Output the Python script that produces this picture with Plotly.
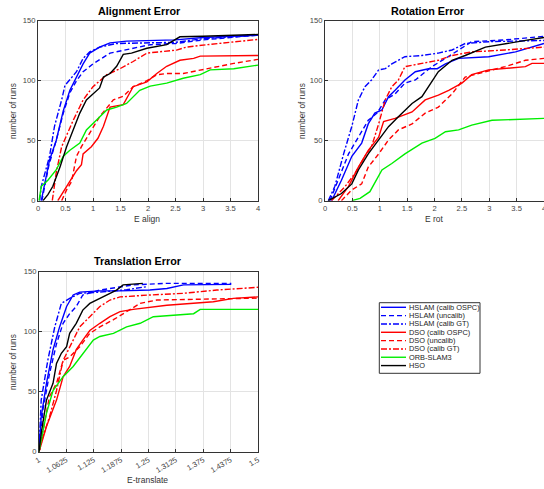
import plotly.graph_objects as go

# ---------------- data ----------------
NAMES = ["HSLAM (calib OSPC)", "HSLAM (uncalib)", "HSLAM (calib GT)",
         "DSO (calib OSPC)", "DSO (uncalib)", "DSO (calib GT)",
         "ORB-SLAM3", "HSO"]
COLORS = ["#0000FF", "#0000FF", "#0000FF", "#FF0000", "#FF0000", "#FF0000", "#00EE00", "#000000"]
DASHES = ["solid", "5px,3px", "6px,2px,2px,2px", "solid", "5px,3px", "6px,2px,2px,2px", "solid", "solid"]

# Alignment error
align_hslam_ospc_x = [0.06, 0.21, 0.33, 0.46, 0.58, 0.70, 0.82, 0.94, 1.12, 1.31, 1.61, 2.5, 3.0, 4.0]
align_hslam_ospc_y = [0, 34, 50, 75, 92, 103, 114, 123, 128, 131.5, 133, 134, 136, 138]
align_hslam_uncal_x = [0.07, 0.2, 0.33, 0.46, 0.58, 0.70, 0.82, 1.0, 1.31, 1.73, 2.04, 2.5, 3.0, 4.0]
align_hslam_uncal_y = [0, 30, 50, 73, 90, 100, 107.5, 114, 123, 127, 130, 131, 134, 138]
align_hslam_gt_x = [0.03, 0.06, 0.21, 0.30, 0.43, 0.49, 0.70, 0.82, 0.94, 1.12, 1.43, 2.5, 3.0, 4.0]
align_hslam_gt_y = [0, 12, 37, 62, 84, 96, 107.5, 118.6, 124, 128, 131, 132, 135, 138]
align_dso_ospc_x = [0.36, 0.52, 0.70, 0.79, 0.82, 0.97, 1.09, 1.19, 1.31, 1.55, 1.73, 1.98, 2.16, 2.34, 2.58, 2.83, 2.95, 4.0]
align_dso_ospc_y = [0, 12, 25, 30, 39, 45, 52, 62, 78, 80, 95, 99, 106, 112, 117, 118.6, 120.5, 121]
align_dso_uncal_x = [0.43, 0.52, 0.61, 0.70, 0.79, 0.94, 1.12, 1.37, 1.55, 1.73, 1.98, 2.16, 2.34, 2.64, 2.95, 3.31, 3.56, 4.0]
align_dso_uncal_y = [0, 9, 16, 37, 45, 56, 70, 84, 87, 95, 100, 105, 106, 106, 109, 112, 114.4, 117.8]
align_dso_gt_x = [0.26, 0.33, 0.43, 0.64, 0.82, 1.0, 1.25, 1.49, 1.73, 1.98, 2.52, 2.7, 3.07, 3.56, 4.0]
align_dso_gt_y = [0, 23, 45, 67, 84, 95, 105, 110, 116, 123, 125.5, 128, 130, 132.5, 134.4]
align_orb_x = [0.02, 0.06, 0.18, 0.33, 0.46, 0.58, 0.76, 0.88, 1.06, 1.25, 1.43, 1.61, 1.85, 2.04, 2.34, 2.64, 2.95, 3.13, 3.56, 4.0]
align_orb_y = [0, 12, 17, 25.6, 37, 42, 48, 59, 67, 75.6, 78, 81, 92, 95.5, 98, 102, 105, 109, 110, 113]
align_hso_x = [0.09, 0.18, 0.27, 0.40, 0.52, 0.64, 0.76, 0.88, 1.0, 1.12, 1.19, 1.31, 1.43, 1.55, 1.7, 1.98, 2.34, 2.58, 3.0, 4.0]
align_hso_y = [0, 5, 12, 28, 45, 59, 73, 84, 89, 94, 103, 106, 112, 122, 123, 127, 130, 136.6, 137, 138.5]

# Rotation error
rot_hslam_ospc_x = [0.12, 0.30, 0.49, 0.67, 0.79, 0.91, 1.04, 1.16, 1.28, 1.46, 1.65, 1.89, 2.05, 2.2, 2.44, 2.99, 3.48, 4.0]
rot_hslam_ospc_y = [0, 17, 37, 48, 64, 73, 75.6, 86.7, 92, 100.6, 107.5, 110, 110, 114, 118.6, 120, 124, 131]
rot_hslam_uncal_x = [0.09, 0.24, 0.43, 0.61, 0.79, 0.95, 1.10, 1.28, 1.46, 1.65, 1.95, 2.2, 2.44, 2.68, 3.29, 4.0]
rot_hslam_uncal_y = [0, 17, 39, 53, 67, 73, 84, 89, 98, 100.6, 111.7, 118.6, 125.6, 132.5, 134, 137]
rot_hslam_gt_x = [0.06, 0.18, 0.34, 0.49, 0.61, 0.73, 0.85, 0.98, 1.10, 1.22, 1.46, 1.77, 2.07, 2.32, 2.56, 2.99, 3.48, 4.0]
rot_hslam_gt_y = [0, 12, 39, 62, 84, 95, 100.6, 109, 110, 114, 120, 121, 123, 125.6, 131, 132.5, 133, 133.5]
rot_dso_ospc_x = [0.24, 0.43, 0.61, 0.79, 0.98, 1.07, 1.28, 1.59, 1.83, 2.07, 2.26, 2.5, 2.68, 2.99, 3.66, 3.78, 4.0]
rot_dso_ospc_y = [0, 12, 28, 42, 53, 66, 68.6, 74, 84, 88, 92, 98, 105, 109, 111.7, 114.4, 114.4]
rot_dso_uncal_x = [0.30, 0.49, 0.67, 0.79, 0.98, 1.16, 1.34, 1.59, 1.83, 2.07, 2.32, 2.56, 2.8, 3.29, 3.66, 4.0]
rot_dso_uncal_y = [0, 9, 14, 28, 39, 50.6, 59, 64, 73, 78, 89, 103, 106, 111.7, 117, 118.6]
rot_dso_gt_x = [0.12, 0.37, 0.55, 0.73, 0.85, 0.98, 1.10, 1.22, 1.34, 1.46, 1.77, 2.07, 2.32, 2.68, 3.29, 4.0]
rot_dso_gt_y = [0, 12, 23, 37, 45, 64, 84, 95, 100.6, 111.7, 114.4, 117, 121, 124, 125.6, 128]
rot_orb_x = [0.49, 0.64, 0.82, 1.04, 1.22, 1.46, 1.77, 2.01, 2.2, 2.44, 2.68, 3.05, 4.0]
rot_orb_y = [0, 2, 7.5, 25.6, 31, 39, 48, 52, 57.5, 59, 63, 67, 68.6]
rot_hso_x = [0.06, 0.30, 0.49, 0.61, 0.79, 0.98, 1.16, 1.34, 1.59, 1.77, 1.89, 2.07, 2.32, 2.56, 2.93, 3.29, 3.72, 4.0]
rot_hso_y = [0, 6, 14, 25.6, 39, 50.6, 61.7, 70, 81, 86.7, 95, 107.5, 117, 121, 128, 131, 134, 136]

# Translation error
tr_hslam_ospc_x = [1.0, 1.005, 1.017, 1.032, 1.047, 1.063, 1.078, 1.093, 1.139, 1.185, 1.253, 1.292, 1.33, 1.439]
tr_hslam_ospc_y = [1.4, 29, 57, 85, 104, 121, 130.6, 133, 134, 134, 134.7, 136, 139, 139.4]
tr_hslam_uncal_x = [1.0015, 1.009, 1.024, 1.04, 1.055, 1.07, 1.085, 1.1, 1.139, 1.215, 1.29, 1.439]
tr_hslam_uncal_y = [1.4, 35, 65, 90, 107, 115, 121, 130.6, 134.7, 139, 140.3, 140.3]
tr_hslam_gt_x = [1.0, 1.005, 1.02, 1.036, 1.051, 1.07, 1.093, 1.139, 1.2, 1.246]
tr_hslam_gt_y = [0, 43, 76, 104, 123.6, 127.8, 132, 133, 135, 137.5]
tr_dso_ospc_x = [1.0, 1.017, 1.04, 1.055, 1.07, 1.085, 1.1, 1.116, 1.139, 1.162, 1.185, 1.215, 1.292, 1.368, 1.398, 1.444, 1.5]
tr_dso_ospc_y = [0, 21, 43, 62.5, 71, 85, 93, 101, 107, 112.5, 116.7, 118.6, 122, 124, 125, 127.8, 129]
tr_dso_uncal_x = [1.0, 1.017, 1.024, 1.04, 1.055, 1.07, 1.093, 1.116, 1.139, 1.17, 1.192, 1.208, 1.231, 1.269, 1.368, 1.444, 1.5]
tr_dso_uncal_y = [0, 35, 46, 57, 76, 79, 87.5, 98.6, 104, 110, 115, 118, 123.6, 126.4, 127, 127.8, 128]
tr_dso_gt_x = [1.0, 1.009, 1.024, 1.04, 1.055, 1.07, 1.093, 1.116, 1.139, 1.162, 1.185, 1.253, 1.33, 1.406, 1.5]
tr_dso_gt_y = [0, 12.5, 29, 51, 76, 87.5, 104, 112.5, 121, 126.4, 129, 130.6, 132, 134.7, 137]
tr_orb_x = [1.0, 1.017, 1.032, 1.055, 1.078, 1.1, 1.124, 1.139, 1.17, 1.2, 1.231, 1.261, 1.33, 1.353, 1.368, 1.5]
tr_orb_y = [0, 32, 51, 62.5, 71, 82, 93, 96, 98.6, 104, 107, 112.5, 114, 115, 118.6, 118.6]
tr_hso_x = [1.0, 1.005, 1.017, 1.032, 1.04, 1.051, 1.063, 1.07, 1.085, 1.1, 1.116, 1.131, 1.154, 1.177, 1.192, 1.237]
tr_hso_y = [0, 15, 43, 57, 73.6, 82, 87.5, 98.6, 107, 118, 123.6, 126.4, 130.6, 134.7, 139, 140.3]

ALIGN = [(align_hslam_ospc_x, align_hslam_ospc_y), (align_hslam_uncal_x, align_hslam_uncal_y),
         (align_hslam_gt_x, align_hslam_gt_y), (align_dso_ospc_x, align_dso_ospc_y),
         (align_dso_uncal_x, align_dso_uncal_y), (align_dso_gt_x, align_dso_gt_y),
         (align_orb_x, align_orb_y), (align_hso_x, align_hso_y)]
ROT = [(rot_hslam_ospc_x, rot_hslam_ospc_y), (rot_hslam_uncal_x, rot_hslam_uncal_y),
       (rot_hslam_gt_x, rot_hslam_gt_y), (rot_dso_ospc_x, rot_dso_ospc_y),
       (rot_dso_uncal_x, rot_dso_uncal_y), (rot_dso_gt_x, rot_dso_gt_y),
       (rot_orb_x, rot_orb_y), (rot_hso_x, rot_hso_y)]
TRANS = [(tr_hslam_ospc_x, tr_hslam_ospc_y), (tr_hslam_uncal_x, tr_hslam_uncal_y),
         (tr_hslam_gt_x, tr_hslam_gt_y), (tr_dso_ospc_x, tr_dso_ospc_y),
         (tr_dso_uncal_x, tr_dso_uncal_y), (tr_dso_gt_x, tr_dso_gt_y),
         (tr_orb_x, tr_orb_y), (tr_hso_x, tr_hso_y)]

TRANS_TICKS = [1, 1.0625, 1.125, 1.1875, 1.25, 1.3125, 1.375, 1.4375, 1.5]
TRANS_TICKTEXT = ["1", "1.0625", "1.125", "1.1875", "1.25", "1.3125", "1.375", "1.4375", "1.5"]

# ---------------- figure ----------------
W, H = 544, 489
FONT = "Liberation Sans, Arial, sans-serif"
fig = go.Figure()

panels = [("x", "y", ALIGN), ("x2", "y2", ROT), ("x3", "y3", TRANS)]
for xa, ya, series in panels:
    for i, (xs, ys) in enumerate(series):
        fig.add_trace(go.Scatter(
            x=xs, y=ys, xaxis=xa, yaxis=ya, mode="lines", name=NAMES[i],
            showlegend=False, hoverinfo="skip",
            line=dict(color=COLORS[i], dash=DASHES[i], width=1.4)))

def px_x(p):
    return p / W

def px_y(p):
    return 1 - p / H

axis_common = dict(showline=True, linecolor="#333333", linewidth=1, mirror=True,
                   showgrid=True, gridcolor="#E3E3E3", gridwidth=1,
                   ticks="inside", ticklen=3, tickcolor="#333333",
                   tickfont=dict(size=7.6, color="#444444", family=FONT),
                   zeroline=False, automargin=False, ticklabeloverflow="allow")

fig.update_layout(
    width=W, height=H, margin=dict(l=0, r=0, t=0, b=0, autoexpand=False),
    paper_bgcolor="white", plot_bgcolor="white",
    font=dict(family=FONT), showlegend=False,
    xaxis=dict(domain=[px_x(38), px_x(258)], range=[0, 4], dtick=0.5, anchor="y", **axis_common),
    yaxis=dict(domain=[px_y(200.7), px_y(20.7)], range=[0, 150], dtick=50, anchor="x", **axis_common),
    xaxis2=dict(domain=[px_x(325), px_x(544)], range=[0, 4], dtick=0.5, anchor="y2", **axis_common),
    yaxis2=dict(domain=[px_y(200.7), px_y(20.7)], range=[0, 150], dtick=50, anchor="x2", **axis_common),
    xaxis3=dict(domain=[px_x(39), px_x(258)], range=[1, 1.5], tickvals=TRANS_TICKS,
                ticktext=TRANS_TICKTEXT, tickangle=-30, anchor="y3", **axis_common),
    yaxis3=dict(domain=[px_y(451.7), px_y(271.7)], range=[0, 150], dtick=50, anchor="x3", **axis_common),
)

def ann(text, x, y, size, bold=False, angle=0, color="#333333", xanchor="center"):
    fig.add_annotation(text=("<b>%s</b>" % text) if bold else text,
                       x=px_x(x), y=px_y(y), xref="paper", yref="paper",
                       showarrow=False, textangle=angle,
                       font=dict(size=size, color=color, family=FONT),
                       xanchor=xanchor, yanchor="middle")

ann("Alignment Error", 139, 11, 10.8, bold=True, color="#000000")
ann("Rotation Error", 428, 11, 10.8, bold=True, color="#000000")
ann("Translation Error", 138, 261, 10.8, bold=True, color="#000000")
ann("E align", 147, 219, 8.5)
ann("E rot", 434, 219, 8.5)
ann("E-translate", 147, 480, 8.5)
ann("number of runs", 13, 111, 8.3, angle=-90)
ann("number of runs", 302, 111, 8.3, angle=-90)
ann("number of runs", 13, 362, 8.3, angle=-90)

# ---- manual compact legend (box, line samples, labels) ----
LEG_L, LEG_R, LEG_T, LEG_B = 379.3, 480, 302.7, 373.3
fig.add_shape(type="rect", xref="paper", yref="paper",
              x0=px_x(LEG_L), x1=px_x(LEG_R), y0=px_y(LEG_B), y1=px_y(LEG_T),
              line=dict(color="#333333", width=1), fillcolor="white", layer="above")
row_h = (LEG_B - LEG_T - 4) / len(NAMES)
for i, name in enumerate(NAMES):
    yc = LEG_T + 4.6 + row_h * i
    fig.add_shape(type="line", xref="paper", yref="paper",
                  x0=px_x(381), x1=px_x(406), y0=px_y(yc), y1=px_y(yc),
                  line=dict(color=COLORS[i], dash=DASHES[i], width=1.4), layer="above")
    ann(name, 407, yc, 7.4, color="#222222", xanchor="left")

fig.write_html("out.html", config={"displayModeBar": False, "staticPlot": True},
               post_script="document.body.style.margin='0';document.body.style.overflow='hidden';")
